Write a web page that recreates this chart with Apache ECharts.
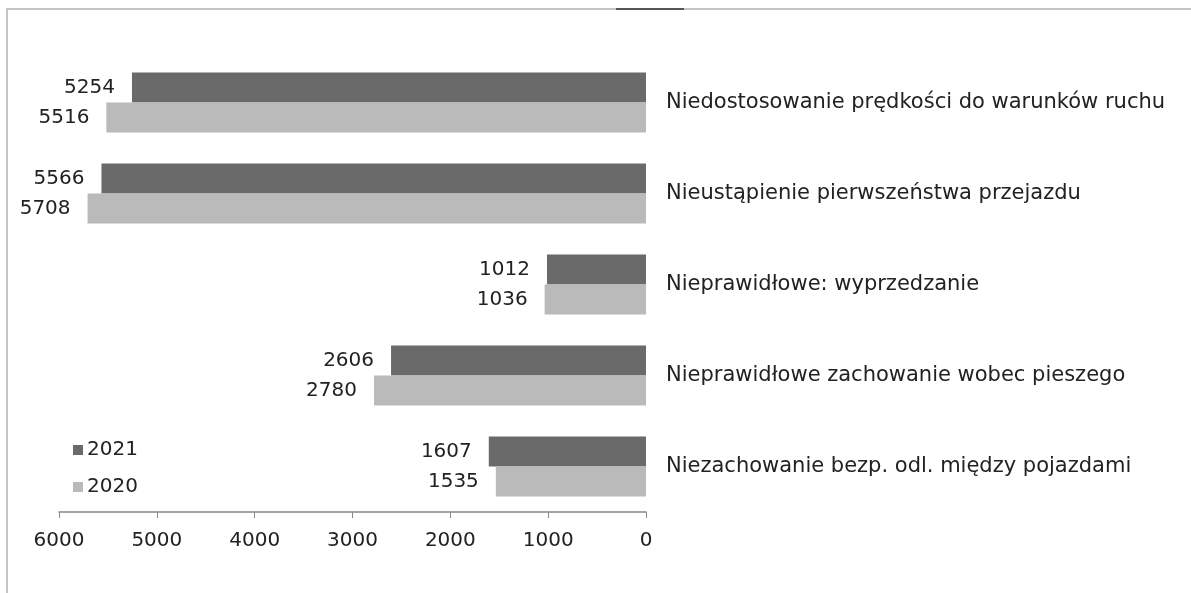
<!DOCTYPE html>
<html>
<head>
<meta charset="utf-8">
<style>
  html, body { margin: 0; padding: 0; background: #fff; }
  #chart { width: 1191px; height: 593px; }
</style>
<script src="https://cdn.jsdelivr.net/npm/echarts@6/dist/echarts.min.js"></script>
</head>
<body>
<div id="chart"></div>
<script>
const categories = [
  'Niedostosowanie prędkości do warunków ruchu',
  'Nieustąpienie pierwszeństwa przejazdu',
  'Nieprawidłowe: wyprzedzanie',
  'Nieprawidłowe zachowanie wobec pieszego',
  'Niezachowanie bezp. odl. między pojazdami'
];
const values2021 = [5254, 5566, 1012, 2606, 1607];
const values2020 = [5516, 5708, 1036, 2780, 1535];

const font = 'DejaVu Sans';
const chart = echarts.init(document.getElementById('chart'));

const labelStyle = {
  show: true,
  position: 'left',
  distance: 17,
  color: '#222',
  fontFamily: font,
  fontSize: 20
};

chart.setOption({
  backgroundColor: '#fff',
  animation: false,
  graphic: [
    {
      type: 'polyline',
      shape: { points: [[7, 593], [7, 9], [1191, 9]] },
      style: { fill: 'none', stroke: '#c4c4c4', lineWidth: 2 },
      silent: true
    },
    {
      type: 'line',
      shape: { x1: 616, y1: 9, x2: 684, y2: 9 },
      style: { stroke: '#555', lineWidth: 2 },
      silent: true
    }
  ],
  legend: {
    orient: 'vertical',
    left: 68,
    top: 435,
    itemGap: 17,
    itemWidth: 10,
    itemHeight: 10,
    icon: 'rect',
    textStyle: { fontFamily: font, fontSize: 20, color: '#222', padding: [0, 0, 0, -1] },
    data: ['2021', '2020']
  },
  grid: {
    left: 59,
    right: 545,
    top: 57,
    bottom: 81,
    containLabel: false
  },
  xAxis: {
    type: 'value',
    inverse: true,
    min: 0,
    max: 6000,
    interval: 1000,
    axisLine: { show: true, lineStyle: { color: '#888', width: 1.5 } },
    axisTick: { show: true, length: 6, inside: false, lineStyle: { color: '#888' } },
    axisLabel: {
      color: '#222',
      fontFamily: font,
      fontSize: 20,
      margin: 19,
      formatter: v => String(v)
    },
    splitLine: { show: false }
  },
  yAxis: {
    type: 'category',
    inverse: true,
    position: 'right',
    data: categories,
    axisLine: { show: false },
    axisTick: { show: false },
    axisLabel: {
      align: 'left',
      margin: 20,
      color: '#222',
      fontFamily: font,
      fontSize: 21
    }
  },
  series: [
    {
      name: '2021',
      type: 'bar',
      data: values2021,
      barWidth: 30,
      barGap: '0%',
      itemStyle: { color: '#6a6a6a' },
      label: labelStyle
    },
    {
      name: '2020',
      type: 'bar',
      data: values2020,
      barWidth: 30,
      barGap: '0%',
      itemStyle: { color: '#bababa' },
      label: labelStyle
    }
  ]
});
</script>
</body>
</html>
